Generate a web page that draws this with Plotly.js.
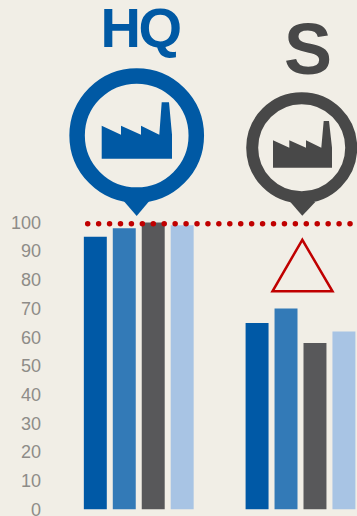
<!DOCTYPE html>
<html>
<head>
<meta charset="utf-8">
<script src="https://cdn.plot.ly/plotly-3.0.1.min.js"></script>
<style>
html,body{margin:0;padding:0;background:#f1eee6}
#chart{width:357px;height:516px}
.annotation[data-index="0"] text{letter-spacing:-2.5px}
</style>
</head>
<body>
<div id="chart"></div>
<script>
// Site groups and the four measures shown for each
const groups = ["HQ", "S"];
const series1 = [95, 65];
const series2 = [98, 70];
const series3 = [100, 58];
const series4 = [99, 62];
const seriesColors = ["#0059a6", "#337ab7", "#58585a", "#a8c4e4"];
const yTicks = [0, 10, 20, 30, 40, 50, 60, 70, 80, 90, 100];
const targetLevel = 99.6;

const W = 357, H = 516;
const plotLeft = 45, zeroY = 509.3, pxPerUnit = 2.868;

// Group centres sit at x = 0 and x = 1 on a linear axis
const groupStart = 138.75, groupPitch = 161.75;
const toX = p => (p - groupStart) / groupPitch;
const px = p => (p - plotLeft) / (W - plotLeft);
const py = p => (H - p) / H;
const poly = pts => pts.map((q, i) => (i ? "L" : "M") + px(q[0]) + "," + py(q[1])).join(" ") + " Z";

const BLUE = "#0059a4", DARK = "#484848", RED = "#c00000";

// Map pin: ring, pointer and factory silhouette
function pin(cx, cy, r, w, color, tail, factory) {
  const ring = {
    type: "circle", xref: "paper", yref: "paper",
    x0: px(cx - r), x1: px(cx + r), y0: py(cy + r), y1: py(cy - r),
    line: {color: color, width: w}, fillcolor: "rgba(0,0,0,0)"
  };
  const fill = pts => ({
    type: "path", xref: "paper", yref: "paper", path: poly(pts),
    fillcolor: color, line: {color: color, width: 0}
  });
  return [ring, fill(tail), fill(factory)];
}

const shapes = [
  ...pin(136.7, 135.5, 59.6, 15.5, BLUE,
    [[122, 199], [136.7, 216], [151, 199]],
    [[101.7, 125.7], [121, 134.7], [121, 125.7], [141, 134.7], [141, 125.7], [159.3, 134.7],
     [161.7, 102.3], [169, 102.3], [172, 134.7], [172, 158.7], [101.7, 158.7]]),
  ...pin(301.7, 147.8, 49.5, 12, DARK,
    [[290.3, 202], [302.3, 215.7], [315.3, 202]],
    [[273, 140.3], [289.3, 147.7], [289.3, 140.3], [306, 147.7], [306, 140.3], [321.3, 147.7],
     [323.7, 121], [329, 121], [332, 147.7], [332, 167.7], [273, 167.7]]),
  {
    type: "path", xref: "paper", yref: "paper",
    path: poly([[302.3, 239.8], [272.5, 291.3], [332.5, 291.3]]),
    fillcolor: "rgba(0,0,0,0)", line: {color: RED, width: 2.5}
  }
];

// Dotted target line across the plot
const dotX = [], dotY = [];
for (let p = 87.7; p < W + 2; p += 10.93) { dotX.push(toX(p)); dotY.push(targetLevel); }

const bars = [series1, series2, series3, series4].map((vals, i) => ({
  type: "bar", name: "Series " + (i + 1), x: [0, 1], y: vals,
  marker: {color: seriesColors[i]}, hoverinfo: "y"
}));
const dots = {
  type: "scatter", mode: "markers", x: dotX, y: dotY, cliponaxis: false,
  marker: {color: RED, size: 5.5}, hoverinfo: "skip"
};

const layout = {
  width: W, height: H,
  margin: {l: plotLeft, r: 0, t: 0, b: 0, pad: 0},
  paper_bgcolor: "#f1eee6", plot_bgcolor: "#f1eee6",
  showlegend: false, barmode: "group", bargap: 0.284, bargroupgap: 0.207,
  font: {family: "Liberation Sans, Arial, sans-serif"},
  xaxis: {
    range: [toX(plotLeft), toX(W)], visible: false, fixedrange: true
  },
  yaxis: {
    // The axis runs a little below zero so the 0 label keeps its place above the page edge
    range: [(zeroY - H) / pxPerUnit, zeroY / pxPerUnit],
    tickmode: "array", tickvals: yTicks, ticktext: yTicks.map(String),
    showgrid: false, zeroline: false, showline: false, ticks: "", ticklabelstandoff: 3,
    ticklabeloverflow: "allow",
    tickfont: {size: 18, color: "#8e8c88"}, fixedrange: true
  },
  shapes: shapes,
  annotations: [
    {text: "<b>" + groups[0] + "</b>", xref: "paper", yref: "paper", x: px(139.5), y: py(27.5),
     xanchor: "center", yanchor: "middle", showarrow: false, font: {size: 56, color: BLUE}},
    {text: "<b>" + groups[1] + "</b>", xref: "paper", yref: "paper", x: px(308), y: py(49),
     xanchor: "center", yanchor: "middle", showarrow: false, font: {size: 72, color: DARK}}
  ]
};

Plotly.newPlot("chart", [...bars, dots], layout, {displayModeBar: false, staticPlot: true});
</script>
</body>
</html>
